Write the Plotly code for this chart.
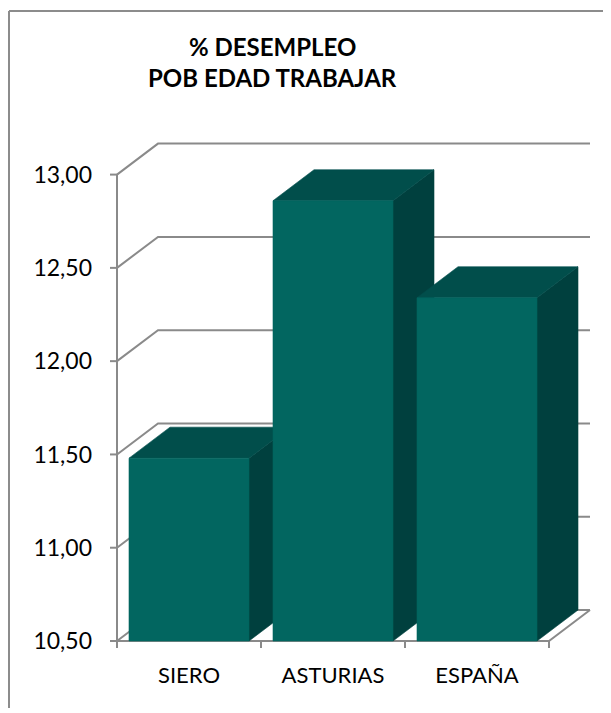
import plotly.graph_objects as go

# ---- data ----
categories = ["SIERO", "ASTURIAS", "ESPAÑA"]
values = [11.48, 12.86, 12.34]
y_ticks = [10.5, 11.0, 11.5, 12.0, 12.5, 13.0]
y_tick_labels = ["10,50", "11,00", "11,50", "12,00", "12,50", "13,00"]
title_lines = ["% DESEMPLEO", "POB EDAD TRABAJAR"]

# ---- geometry / style (figure pixels; page adds a body margin) ----
OFFX, OFFY = 8, 8
W, H = 611 - 2 * OFFX, 700
PXX = 144.0          # px per category unit
PXY = 186.56         # px per value unit
FRONT_LEFT_PX = 117 - OFFX
FLOOR_PX = 641 - OFFY
PLOT_L, PLOT_R, PLOT_T, PLOT_B = 105 - OFFX, 595 - OFFX, 140 - OFFY, 652 - OFFY
DX = 41 / PXX        # depth offset (data units)
DY = 31 / PXY
BAR_W = 120 / PXX
BASE = y_ticks[0]
TOP = y_ticks[-1]
x_min = -0.5 - (FRONT_LEFT_PX - PLOT_L) / PXX
x_max = -0.5 + (PLOT_R - FRONT_LEFT_PX) / PXX
y_min = BASE - (PLOT_B - FLOOR_PX) / PXY
y_max = BASE + (FLOOR_PX - PLOT_T) / PXY

GRID = "#8a8a8a"
FRONT = "#026660"
TOPC = "#014e4b"
SIDE = "#00403e"
n = len(categories)
x_left = -0.5
x_right = n - 0.5

fig = go.Figure()

def line(xs, ys, color=GRID, width=2):
    fig.add_trace(go.Scatter(x=xs, y=ys, mode="lines",
                             line=dict(color=color, width=width),
                             hoverinfo="skip", showlegend=False))

def poly(xs, ys, color):
    fig.add_trace(go.Scatter(x=xs + [xs[0]], y=ys + [ys[0]], mode="lines",
                             fill="toself", fillcolor=color,
                             line=dict(color=color, width=0.6),
                             hoverinfo="skip", showlegend=False))

# gridlines on side & back walls
for v in y_ticks:
    line([x_left, x_left + DX, x_right + DX], [v, v + DY, v + DY])
# front left vertical
line([x_left, x_left], [BASE, TOP])
# floor front edge and right edge
line([x_left, x_right, x_right + DX], [BASE, BASE, BASE + DY])
# y ticks
tl_x = 7 / PXX
for v in y_ticks:
    line([x_left - tl_x, x_left], [v, v])
# x ticks at category boundaries
tl_y = 7 / PXY
for i in range(n + 1):
    xb = x_left + i
    line([xb, xb], [BASE, BASE - tl_y])

# bars (side, top, front)
for i, v in enumerate(values):
    l = i - BAR_W / 2
    r = i + BAR_W / 2
    poly([r, r + DX, r + DX, r], [BASE, BASE + DY, v + DY, v], SIDE)
    poly([l, r, r + DX, l + DX], [v, v, v + DY, v + DY], TOPC)
    poly([l, r, r, l], [BASE, BASE, v, v], FRONT)

pw = PLOT_R - PLOT_L
ph = PLOT_B - PLOT_T
# outer chart border (left and top edges visible)
bx = (1 - PLOT_L) / pw
by = (PLOT_B - (11 - OFFY)) / ph
fig.add_shape(type="line", xref="paper", yref="paper",
              x0=bx, x1=bx, y0=by, y1=(PLOT_B - H) / ph,
              line=dict(color="#8c8c8c", width=2), layer="below")
fig.add_shape(type="line", xref="paper", yref="paper",
              x0=bx, x1=(W - PLOT_L) / pw, y0=by, y1=by,
              line=dict(color="#8c8c8c", width=2), layer="below")

FONT = "Lato"
# title lines as annotations (tighter line spacing)
title_centers_px = [46 - OFFY, 77 - OFFY]
for txt, cy in zip(title_lines, title_centers_px):
    fig.add_annotation(text="<b>" + txt + "</b>", xref="paper", yref="paper",
                       x=(272 - OFFX - PLOT_L) / pw, y=(PLOT_B - cy) / ph,
                       xanchor="center", yanchor="middle", showarrow=False,
                       font=dict(family=FONT, size=24, color="black"))

fig.update_layout(
    width=W, height=H,
    margin=dict(l=PLOT_L, r=W - PLOT_R, t=PLOT_T, b=H - PLOT_B),
    paper_bgcolor="white", plot_bgcolor="white",
    showlegend=False,
    xaxis=dict(range=[x_min, x_max], tickvals=list(range(n)), ticktext=categories,
               showgrid=False, zeroline=False, showline=False, ticks="",
               ticklabelstandoff=8,
               tickfont=dict(family=FONT, size=22, color="black"), fixedrange=True),
    yaxis=dict(range=[y_min, y_max], tickvals=y_ticks, ticktext=y_tick_labels,
               showgrid=False, zeroline=False, showline=False, ticks="",
               ticklabelstandoff=12,
               tickfont=dict(family=FONT, size=23, color="black"), fixedrange=True),
)

fig.write_html("out.html")
